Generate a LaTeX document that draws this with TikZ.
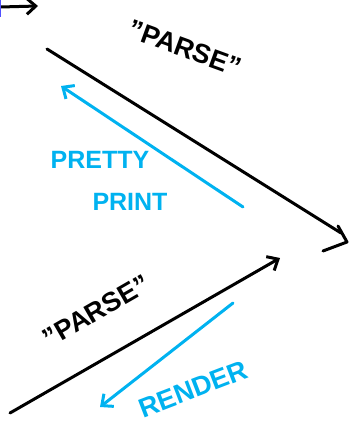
\documentclass[tikz,border=0pt]{standalone}
\usepackage{fontspec}
\setmainfont{Liberation Sans}
\usetikzlibrary{arrows.meta}
\definecolor{inkblue}{RGB}{0,178,240}
\definecolor{edgeblue}{RGB}{80,80,255}
\tikzset{
  ink/.style={line width=3pt, line cap=round, line join=round, black},
  blueink/.style={line width=3pt, line cap=round, line join=round, inkblue},
  barb/.style={-{Straight Barb[length=9pt,width=16pt,line width=3pt]}},
  lbl/.style={inner sep=0pt, font=\bfseries\fontsize{25}{25}\selectfont},
  bluelbl/.style={lbl, text=inkblue},
}
\newcommand{\sq}{\char34}
\begin{document}
\begin{tikzpicture}[x=1pt,y=-1pt]
\useasboundingbox (0,0) rectangle (354,429);
% top-left fragment
\coordinate (tlA) at (0,7);
\coordinate (tlB) at (38,6);
\draw[ink,barb] (tlA) -- (tlB);
\coordinate (edA) at (0.7,0);
\coordinate (edB) at (0.7,17);
\draw[edgeblue,line width=1.5pt] (edA) -- (edB);
% long black line top
\coordinate (p1) at (47,49);
\coordinate (p2) at (341,233);
\draw[ink] (p1) -- (p2);
\coordinate (h1) at (338,226);
\coordinate (h2) at (347,242);
\coordinate (h3) at (323,251);
\draw[ink] (h1) -- (h2) -- (h3);
\node[lbl, font=\bfseries\fontsize{27}{27}\selectfont, rotate=-20] (parse1) at (185,48) {\sq PARSE\sq};
% blue pretty print arrow
\coordinate (b1) at (243,207);
\coordinate (b2) at (61,86);
\draw[blueink,barb] (b1) -- (b2);
\node[bluelbl] (pretty) at (100,160) {PRETTY};
\node[bluelbl] (print) at (130,202) {PRINT};
% bottom black arrow
\coordinate (q1) at (10,413);
\coordinate (q2) at (280,258);
\draw[ink,barb] (q1) -- (q2);
\node[lbl, font=\bfseries\fontsize{27}{27}\selectfont, rotate=30] (parse2) at (96,311) {\sq PARSE\sq};
% blue render arrow
\coordinate (r1) at (233,303);
\coordinate (r2) at (100,407);
\draw[blueink,barb] (r1) -- (r2);
\node[bluelbl, font=\bfseries\fontsize{27}{27}\selectfont, rotate=21] (render) at (193,389) {RENDER};
\end{tikzpicture}
\end{document}
